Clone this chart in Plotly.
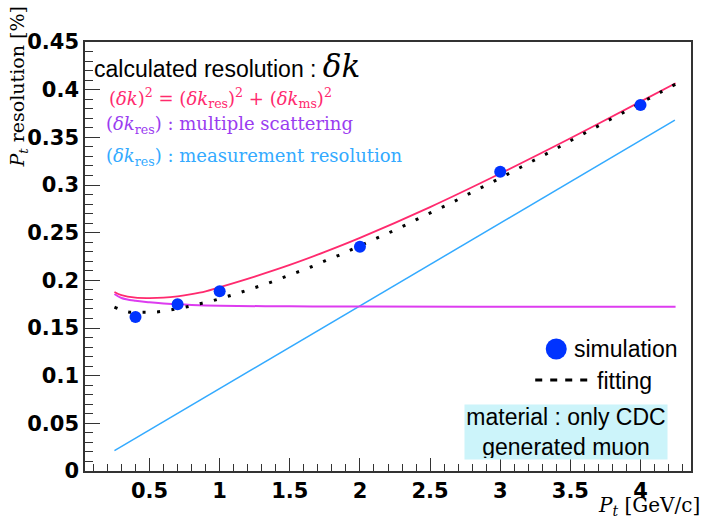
import plotly.graph_objects as go

# ---------------- data ----------------
sim_pt = [0.4, 0.7, 1.0, 2.0, 3.0, 4.0]
sim_res = [0.1615, 0.1748, 0.1885, 0.2353, 0.3140, 0.3840]

fit_pt = [0.25, 0.35, 0.45, 0.55, 0.65, 0.75, 0.85, 0.95, 1.05, 1.15, 1.25, 1.35,
          1.45, 1.55, 1.65, 1.75, 1.85, 1.95, 2.05, 2.15, 2.25, 2.35, 2.45, 2.55,
          2.65, 2.75, 2.85, 2.95, 3.05, 3.15, 3.25, 3.35, 3.45, 3.55, 3.65, 3.75,
          3.85, 3.95, 4.05, 4.15, 4.25]
fit_res = [0.1720, 0.1668, 0.1665, 0.1668, 0.1690, 0.1717, 0.1752, 0.1786, 0.1829,
           0.1874, 0.1923, 0.1972, 0.2028, 0.2084, 0.2140, 0.2203, 0.2263, 0.2329,
           0.2395, 0.2462, 0.2528, 0.2598, 0.2672, 0.2741, 0.2811, 0.2888, 0.2961,
           0.3035, 0.3112, 0.3189, 0.3266, 0.3343, 0.3423, 0.3504, 0.3580, 0.3661,
           0.3738, 0.3818, 0.3899, 0.3979, 0.4058]

tot_pt = [0.25, 0.3, 0.4, 0.5, 0.6, 0.7, 0.8, 0.9, 1.0, 1.25, 1.5, 1.75, 2.0,
          2.5, 3.0, 3.5, 4.0, 4.25]
tot_res = [0.1878, 0.1845, 0.1818, 0.1814, 0.1818, 0.1832, 0.1855, 0.1885, 0.1928,
           0.2040, 0.2162, 0.2298, 0.2445, 0.2768, 0.3120, 0.3490, 0.3875, 0.4067]

ms_pt = [0.25, 0.3, 0.4, 0.5, 0.6, 0.7, 0.8, 1.0, 1.5, 2.0, 3.0, 4.25]
ms_res = [0.1857, 0.1815, 0.1785, 0.1770, 0.1758, 0.1748, 0.1741, 0.1733, 0.1727,
          0.1725, 0.1724, 0.1724]

meas_pt = [0.25, 4.245]
meas_res = [0.0213, 0.3680]

x_ticks = [0.5, 1, 1.5, 2, 2.5, 3, 3.5, 4]
x_ticklabels = ["0.5", "1", "1.5", "2", "2.5", "3", "3.5", "4"]
y_ticks = [0, 0.05, 0.1, 0.15, 0.2, 0.25, 0.3, 0.35, 0.4, 0.45]
y_ticklabels = ["0", "0.05", "0.1", "0.15", "0.2", "0.25", "0.3", "0.35", "0.4", "0.45"]

# ---------------- colours ----------------
C_TOT = "#ff2a6e"
C_MS = "#dd3cf0"
C_MEAS = "#33aaff"
C_SIM = "#0033ff"
C_PURPLE_TXT = "#9a3cf0"

# ---------------- geometry ----------------
W, H = 704, 519
L, R, T, B = 85, 690.7, 42, 471


def px(x):
    return (x - L) / (R - L)


def py(y):
    return (B - y) / (B - T)


fig = go.Figure()

fig.add_trace(go.Scatter(x=meas_pt, y=meas_res, mode="lines",
                         line=dict(color=C_MEAS, width=1.5), showlegend=False))
fig.add_trace(go.Scatter(x=ms_pt, y=ms_res, mode="lines", line_shape="spline",
                         line=dict(color=C_MS, width=2), showlegend=False))
fig.add_trace(go.Scatter(x=tot_pt, y=tot_res, mode="lines", line_shape="spline",
                         line=dict(color=C_TOT, width=1.8), showlegend=False))
fig.add_trace(go.Scatter(x=fit_pt, y=fit_res, mode="lines", line_shape="spline",
                         line=dict(color="black", width=3, dash="3px,11.5px"),
                         showlegend=False))
fig.add_trace(go.Scatter(x=sim_pt, y=sim_res, mode="markers",
                         marker=dict(color=C_SIM, size=12, line=dict(width=0)),
                         showlegend=False))

tickfont = dict(family="DejaVu Sans", size=21, color="black", weight="bold")
axis_common = dict(showgrid=False, zeroline=False, showline=True, mirror=True,
                   linecolor="#333333", linewidth=1.5, ticks="inside",
                   tickcolor="#333333", tickwidth=1.2, tickfont=tickfont)

fig.update_xaxes(range=[0.04, 4.36], tickvals=x_ticks, ticktext=x_ticklabels,
                 ticklen=13,
                 minor=dict(ticks="inside", dtick=0.1, tick0=0, ticklen=7,
                            tickcolor="#333333", tickwidth=1.2),
                 **axis_common)
fig.update_yaxes(range=[0, 0.45], tickvals=y_ticks, ticktext=y_ticklabels,
                 ticklen=15,
                 minor=dict(ticks="inside", dtick=0.01, tick0=0, ticklen=8,
                            tickcolor="#333333", tickwidth=1.2),
                 **axis_common)

serif = "DejaVu Serif"
sans = "Liberation Sans"
P = dict(xref="paper", yref="paper", showarrow=False)
ann = []
ann.append(dict(x=px(92), y=py(66), xanchor="left", yanchor="middle",
                text="calculated resolution : <i><span style='font-family:DejaVu Serif;font-size:31px'>δk</span></i>",
                font=dict(family=sans, size=23, color="black"), **P))
ann.append(dict(x=px(107), y=py(98), xanchor="left", yanchor="middle",
                text="(<i>δk</i>)<sup>2</sup> = (<i>δk</i><sub>res</sub>)<sup>2</sup> + (<i>δk</i><sub>ms</sub>)<sup>2</sup>",
                font=dict(family=serif, size=18, color=C_TOT), **P))
ann.append(dict(x=px(104), y=py(125), xanchor="left", yanchor="middle",
                text="(<i>δk</i><sub>res</sub>) : multiple scattering",
                font=dict(family=serif, size=18, color=C_PURPLE_TXT), **P))
ann.append(dict(x=px(104), y=py(157), xanchor="left", yanchor="middle",
                text="(<i>δk</i><sub>res</sub>) : measurement resolution",
                font=dict(family=serif, size=18, color=C_MEAS), **P))
# legend texts
ann.append(dict(x=px(626), y=py(349), xanchor="center", yanchor="middle",
                text="simulation",
                font=dict(family=sans, size=23, color="black"), **P))
ann.append(dict(x=px(624), y=py(381), xanchor="center", yanchor="middle",
                text="fitting",
                font=dict(family=sans, size=23, color="black"), **P))
# material box
ann.append(dict(x=px(566), y=py(432), xanchor="center", yanchor="middle",
                text="material : only CDC<br>generated muon",
                align="center", bgcolor="#ccf4fa", width=200, height=52,
                font=dict(family=sans, size=23, color="black"), **P))
# axis titles
ann.append(dict(x=px(702), y=py(506), xanchor="right", yanchor="middle",
                text="<i>P<sub>t</sub></i> [GeV/c]",
                font=dict(family=serif, size=20, color="black"), **P))
ann.append(dict(x=px(19), y=py(4), xanchor="center", yanchor="top",
                textangle=-90,
                text="<i>P<sub>t</sub></i> resolution [%]",
                font=dict(family=serif, size=19, color="black"), **P))

shapes = [
    dict(type="circle", xref="paper", yref="paper",
         x0=px(545.5), x1=px(566.5), y0=py(359.5), y1=py(338.5),
         fillcolor=C_SIM, line=dict(width=0)),
    dict(type="line", xref="paper", yref="paper",
         x0=px(535), x1=px(589), y0=py(380), y1=py(380),
         line=dict(color="black", width=3, dash="7px,8px")),
]

fig.update_layout(width=W, height=H, margin=dict(l=L, r=W - R, t=T, b=H - B),
                  plot_bgcolor="white", paper_bgcolor="white",
                  annotations=ann, shapes=shapes, showlegend=False)

fig.write_html("out.html")
